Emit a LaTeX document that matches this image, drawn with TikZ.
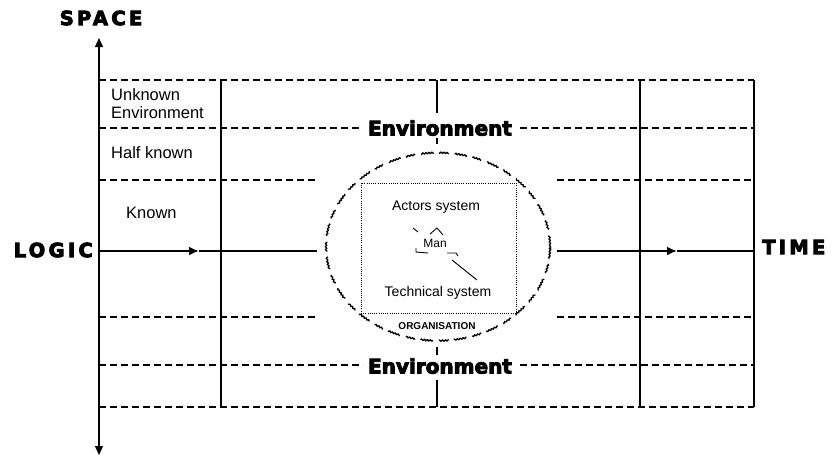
\documentclass[tikz,border=0pt]{standalone}
\usepackage{fontspec}
\setmainfont{Liberation Sans}
\newfontfamily\heavyfont{DejaVu Sans}[BoldFeatures={FakeBold=4.5}]
\newfontfamily\axisfont{DejaVu Sans}[LetterSpace=17,BoldFeatures={FakeBold=4.5}]
\usetikzlibrary{arrows.meta,decorations.pathmorphing}

\tikzset{
  grid/.style={line width=1.3pt},
  gap/.style={line width=1.2pt, dash pattern=on 7pt off 4pt},
  flow/.style={line width=2.8pt},
  flowtip/.style={flow, -{Latex[length=10pt,width=9pt]}},
  organisation/.style={line width=1.3pt, decorate,
    decoration={snake, amplitude=0.6pt, segment length=3pt},
    dash pattern=on 16pt off 7pt on 12pt off 8pt},
  manline/.style={line width=0.9pt},
  axislabel/.style={font=\axisfont\bfseries\fontsize{19.5}{19.5}\selectfont, inner sep=0pt},
  envlabel/.style={font=\heavyfont\bfseries\fontsize{20}{20}\selectfont, inner sep=0pt},
  rowlabel/.style={font=\fontsize{16.5}{18}\selectfont, align=left, anchor=west, inner sep=0pt},
  boxlabel/.style={font=\fontsize{14}{14}\selectfont, inner sep=0pt}
}

\begin{document}
\begin{tikzpicture}[x=1pt, y=-1pt]
  \useasboundingbox (0,0) rectangle (832,456);

  % axes labels
  \node[axislabel] (space) at (101,18) {SPACE};
  \node[axislabel, anchor=east] (logic) at (93,250) {LOGIC};
  \node[axislabel, anchor=west] (time) at (762,247) {TIME};

  % space axis, both ways
  \coordinate (up) at (99,38);
  \coordinate (down) at (99,455);
  \draw[grid, {Triangle[length=9pt,width=8pt]}-{Triangle[length=9pt,width=8pt]}] (up) -- (down);

  % solid columns
  \draw[grid] (221,80) -- (221,407);
  \draw[grid] (640,80) -- (640,407);
  \draw[grid] (754,80) -- (754,407);

  % dashed rows
  \draw[gap] (99,80) -- (754,80);
  \draw[gap] (99,128) -- (362,128);
  \draw[gap] (520,128) -- (754,128);
  \draw[gap] (99,180) -- (318,180);
  \draw[gap] (557,180) -- (754,180);
  \draw[gap] (99,317) -- (316,317);
  \draw[gap] (557,317) -- (754,317);
  \draw[gap] (99,365) -- (363,365);
  \draw[gap] (520,365) -- (754,365);
  \draw[gap] (99,407) -- (754,407);

  % row labels
  \node[rowlabel] (unknown) at (111,104) {Unknown\\Environment};
  \node[rowlabel] (half) at (111,153) {Half known};
  \node[rowlabel] (known) at (126,213) {Known};

  % environment, above and below
  \node[envlabel] (envtop) at (440,128) {Environment};
  \node[envlabel] (envbot) at (440,366) {Environment};
  \draw[grid] (437,80) -- (437,113);
  \draw[grid] (437,138) -- (437,144);
  \draw[grid] (437,347) -- (437,355);
  \draw[grid] (437,380) -- (437,407);

  % logic -> time
  \coordinate (o) at (99,251);
  \coordinate (lmid) at (199,251);
  \coordinate (lend) at (317,251);
  \coordinate (rstart) at (557,251);
  \coordinate (rmid) at (677,251);
  \coordinate (rend) at (754,251);
  \draw[flowtip] (o) -- (lmid);
  \draw[flow] (lmid) -- (lend);
  \draw[flowtip] (rstart) -- (rmid);
  \draw[flow] (rmid) -- (rend);

  % organisation
  \draw[organisation] (438,246) ellipse [x radius=112, y radius=94];
  \node[draw, line width=0.9pt, dash pattern=on 1pt off 1.2pt,
        minimum width=155pt, minimum height=130pt, inner sep=0pt] (actors) at (438.5,248) {};
  \node[boxlabel] (actsys) at (436,207) {Actors system};
  \node[boxlabel] (techsys) at (438,293) {Technical system};
  \node[font=\fontsize{12}{12}\selectfont, inner sep=0pt] (man) at (435,243) {Man};
  \node[font=\bfseries\fontsize{10}{10}\selectfont, inner sep=0pt] (org) at (437,326) {ORGANISATION};

  % broken triangle round man
  \draw[manline] (413,228) -- (418,232);
  \draw[manline] (430,234) -- (437,228) -- (443,235);
  \draw[manline] (416,248) -- (416,252) -- (428,253);
  \draw[manline] (447,253) -- (456,253) -- (458,256);
  \draw[manline] (452,260) -- (477,280);
\end{tikzpicture}
\end{document}
